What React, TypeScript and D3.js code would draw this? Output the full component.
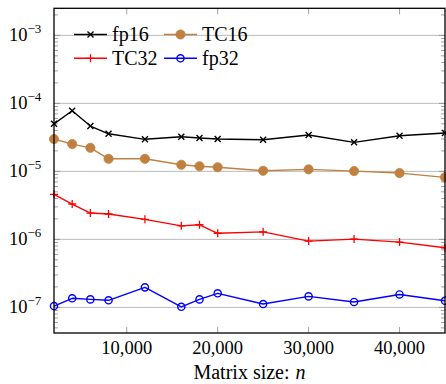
import React from "react";
import * as d3 from "d3";

// Matrix sizes and relative errors for each precision mode
const sizes = [2000, 4000, 6000, 8000, 12000, 16000, 18000, 20000, 25000, 30000, 35000, 40000, 45000];
const fp16 = [5.0e-5, 7.8e-5, 4.64e-5, 3.57e-5, 2.96e-5, 3.23e-5, 3.09e-5, 2.99e-5, 2.92e-5, 3.42e-5, 2.67e-5, 3.34e-5, 3.66e-5];
const tc16 = [2.99e-5, 2.52e-5, 2.22e-5, 1.53e-5, 1.53e-5, 1.25e-5, 1.19e-5, 1.15e-5, 1.02e-5, 1.07e-5, 1.01e-5, 9.44e-6, 8.17e-6];
const tc32 = [4.59e-6, 3.31e-6, 2.44e-6, 2.36e-6, 1.97e-6, 1.58e-6, 1.64e-6, 1.23e-6, 1.29e-6, 9.44e-7, 1.01e-6, 9.12e-7, 7.52e-7];
const fp32 = [1.045e-7, 1.36e-7, 1.31e-7, 1.27e-7, 1.97e-7, 1.02e-7, 1.31e-7, 1.61e-7, 1.12e-7, 1.45e-7, 1.2e-7, 1.55e-7, 1.25e-7];

const xTicks = [10000, 20000, 30000, 40000];
const yDecades = [-7, -6, -5, -4, -3];
const xDomain: [number, number] = [2000, 45000];
const yDomain: [number, number] = [4.2e-8, 2.5e-3];

const W = 446;
const H = 384;
const M = { left: 54, right: 1, top: 8.3, bottom: 51 };

const serifStyle = { fontFamily: '"Liberation Serif"' };
const BROWN = "#bf8040";

type MarkerKind = "x" | "dot" | "plus" | "o";

const series: { name: string; values: number[]; color: string; marker: MarkerKind }[] = [
  { name: "fp16", values: fp16, color: "#000000", marker: "x" },
  { name: "TC16", values: tc16, color: BROWN, marker: "dot" },
  { name: "TC32", values: tc32, color: "#ff0000", marker: "plus" },
  { name: "fp32", values: fp32, color: "#0000ff", marker: "o" },
];

function Marker({ kind, x, y, color }: { kind: MarkerKind; x: number; y: number; color: string }) {
  if (kind === "x") {
    const s = 3;
    return (
      <path d={`M${x - s},${y - s}L${x + s},${y + s}M${x - s},${y + s}L${x + s},${y - s}`} stroke={color} strokeWidth={1.4} />
    );
  }
  if (kind === "plus") {
    const s = 4;
    return <path d={`M${x - s},${y}L${x + s},${y}M${x},${y - s}L${x},${y + s}`} stroke={color} strokeWidth={1.3} />;
  }
  if (kind === "dot") {
    return <circle cx={x} cy={y} r={4.6} fill={color} stroke={color} strokeWidth={0.8} />;
  }
  return <circle cx={x} cy={y} r={3.6} fill="none" stroke={color} strokeWidth={1.4} />;
}

export default function App() {
  const x = d3.scaleLinear().domain(xDomain).range([M.left, W - M.right]);
  const y = d3.scaleLog().domain(yDomain).range([H - M.bottom, M.top]);
  const x0 = M.left;
  const x1 = W - M.right;
  const y0 = H - M.bottom;
  const y1 = M.top;

  const minorTicks: number[] = [];
  for (let e = -8; e <= -3; e++) {
    for (let k = 2; k <= 9; k++) {
      const v = k * Math.pow(10, e);
      if (v > yDomain[0] && v < yDomain[1]) minorTicks.push(v);
    }
  }

  const line = d3
    .line<[number, number]>()
    .x((d) => x(d[0]))
    .y((d) => y(d[1]));

  const fmt = d3.format(",");

  // legend layout (two columns, two rows)
  const legendCols = [74, 164];
  const legendRows = [34.5, 58.3];
  const sampleLen = 33;

  return (
    <svg width={W} height={H} style={{ position: "absolute", left: 0, top: 0, background: "#fff" }}>
      {/* horizontal major grid */}
      {yDecades.map((e) => (
        <line key={e} x1={x0} x2={x1} y1={y(Math.pow(10, e))} y2={y(Math.pow(10, e))} stroke="#b3b3b3" strokeWidth={0.9} />
      ))}
      {/* minor y ticks on both sides */}
      {minorTicks.map((v, i) => (
        <g key={i} stroke="#8a8a8a" strokeWidth={0.8}>
          <line x1={x0} x2={x0 + 4} y1={y(v)} y2={y(v)} />
          <line x1={x1 - 4} x2={x1} y1={y(v)} y2={y(v)} />
        </g>
      ))}
      {/* major y ticks on both sides */}
      {yDecades.map((e) => (
        <g key={e} stroke="#8a8a8a" strokeWidth={0.8}>
          <line x1={x0} x2={x0 + 6} y1={y(Math.pow(10, e))} y2={y(Math.pow(10, e))} />
          <line x1={x1 - 6} x2={x1} y1={y(Math.pow(10, e))} y2={y(Math.pow(10, e))} />
        </g>
      ))}
      {/* x ticks top and bottom */}
      {xTicks.map((t) => (
        <g key={t} stroke="#8a8a8a" strokeWidth={0.8}>
          <line x1={x(t)} x2={x(t)} y1={y0} y2={y0 - 6} />
          <line x1={x(t)} x2={x(t)} y1={y1} y2={y1 + 6} />
        </g>
      ))}

      {/* data series */}
      {series.map((s) => {
        const pts: [number, number][] = sizes.map((n, i) => [n, s.values[i]]);
        return (
          <g key={s.name}>
            <path d={line(pts) || ""} fill="none" stroke={s.color} strokeWidth={1.4} strokeLinejoin="round" />
            {pts.map((p, i) => (
              <Marker key={i} kind={s.marker} x={x(p[0])} y={y(p[1])} color={s.color} />
            ))}
          </g>
        );
      })}

      {/* frame */}
      <rect x={x0} y={y1} width={x1 - x0} height={y0 - y1} fill="none" stroke="#000" strokeWidth={1.3} />

      {/* y tick labels */}
      {yDecades.map((e) => (
        <text key={e} x={9} y={y(Math.pow(10, e)) + 6} fontSize={18.5} fill="#000" style={serifStyle}>
          10
          <tspan dy={-8} fontSize={13}>
            {"\u2212" + Math.abs(e)}
          </tspan>
        </text>
      ))}

      {/* x tick labels */}
      {xTicks.map((t) => (
        <text key={t} x={x(t)} y={y0 + 21} fontSize={18.5} textAnchor="middle" fill="#000" style={serifStyle}>
          {fmt(t)}
        </text>
      ))}

      {/* x axis title */}
      <text x={(x0 + x1) / 2} y={y0 + 46} fontSize={20} textAnchor="middle" fill="#000" style={serifStyle}>
        Matrix size:
        <tspan dx={6} fontStyle="italic">n</tspan>
      </text>

      {/* legend */}
      {series.map((s, i) => {
        const col = i === 0 || i === 2 ? 0 : 1;
        const row = i < 2 ? 0 : 1;
        const lx = legendCols[col];
        const ly = legendRows[row];
        return (
          <g key={s.name}>
            <line x1={lx} x2={lx + sampleLen} y1={ly} y2={ly} stroke={s.color} strokeWidth={1.4} />
            <Marker kind={s.marker} x={lx + sampleLen / 2} y={ly} color={s.color} />
            <text x={lx + sampleLen + 5} y={ly + 6.5} fontSize={20} fill="#000" style={serifStyle}>
              {s.name}
            </text>
          </g>
        );
      })}
    </svg>
  );
}
